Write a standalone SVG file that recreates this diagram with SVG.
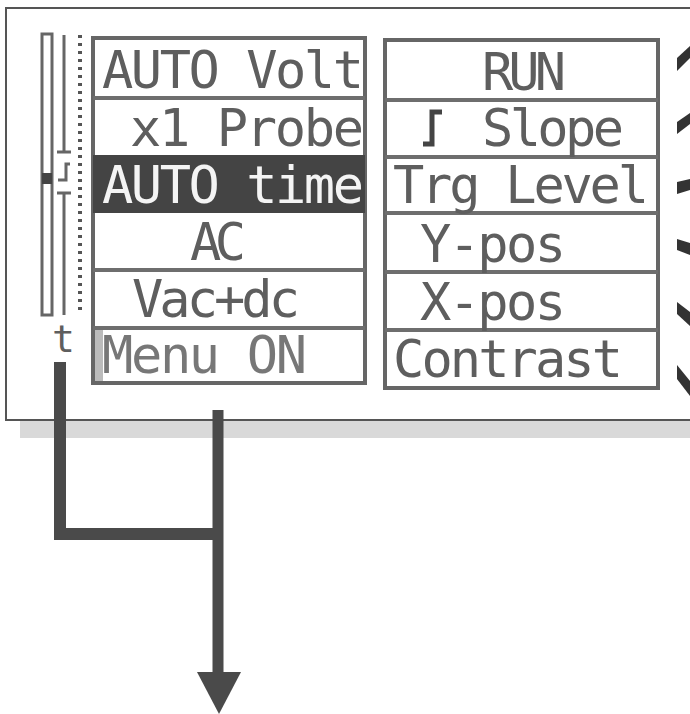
<svg xmlns="http://www.w3.org/2000/svg" width="690" height="714" viewBox="0 0 690 714">
<style>
.lbl{font-family:"DejaVu Sans Mono","Liberation Mono",monospace;font-size:52px;fill:#5e5e5e;lengthAdjust:spacingAndGlyphs}
.inv{fill:#f4f4f4}
.box{fill:#fff;stroke:#666;stroke-width:4}
.sep{stroke:#6e6e6e;stroke-width:4}
.con{fill:none;stroke:#4a4a4a;stroke-linejoin:miter}
.mark{fill:#333}
.tick{fill:none;stroke:#666;stroke-width:3}
</style>
<rect width="690" height="714" fill="#fff"/>
<g id="panel">
<rect x="20" y="420" width="680" height="18" fill="#d9d9d9"/>
<rect x="6" y="8" width="700" height="412" fill="#fff" stroke="#555" stroke-width="2"/>
</g>
<g id="scale">
<rect x="42" y="34" width="10" height="281" fill="none" stroke="#666" stroke-width="3"/>
<rect x="42" y="173" width="10" height="11" fill="#444"/>
<path d="M64,35 V152 M57,152 H71 M70,164 H66 V180 H58 M57,193 H71 M64,193 V315" class="tick"/>
<line x1="80" y1="35" x2="80" y2="312" stroke="#555" stroke-width="4" stroke-dasharray="3,5"/>
<text x="52" y="352" class="lbl" style="font-size:38px">t</text>
</g>
<g id="left-menu">
<rect x="93" y="38" width="272" height="345" class="box"/>
<rect x="93" y="155" width="272" height="58" fill="#444"/>
<rect x="95" y="330" width="8" height="51" fill="#bbb"/>
<line x1="93" y1="98" x2="365" y2="98" class="sep"/>
<line x1="93" y1="270" x2="365" y2="270" class="sep"/>
<line x1="93" y1="328" x2="365" y2="328" class="sep"/>
<g id="auto-volt"><text x="102" y="88" class="lbl" textLength="262">AUTO Volt</text></g>
<g id="x1-probe"><text x="130" y="146" class="lbl" textLength="234">x1 Probe</text></g>
<g id="auto-time"><text x="102" y="203" class="lbl inv" textLength="262">AUTO time</text></g>
<g id="ac"><text x="190" y="260" class="lbl" textLength="56">AC</text></g>
<g id="vac-dc"><text x="132" y="317" class="lbl" textLength="168">Vac+dc</text></g>
<g id="menu-on"><text x="102" y="373" class="lbl" style="fill:#777" textLength="205">Menu ON</text></g>
</g>
<g id="right-menu">
<rect x="385" y="40" width="273" height="348" class="box"/>
<line x1="385" y1="100" x2="658" y2="100" class="sep"/>
<line x1="385" y1="157" x2="658" y2="157" class="sep"/>
<line x1="385" y1="213" x2="658" y2="213" class="sep"/>
<line x1="385" y1="272" x2="658" y2="272" class="sep"/>
<line x1="385" y1="330" x2="658" y2="330" class="sep"/>
<g id="run"><text x="482" y="90" class="lbl" textLength="84">RUN</text></g>
<g id="slope">
<path d="M423,144 H432 V112 H442" fill="none" stroke="#444" stroke-width="5"/>
<text x="482" y="146" class="lbl" textLength="142">Slope</text>
</g>
<g id="trg-level"><text x="393" y="203" class="lbl" textLength="256">Trg Level</text></g>
<g id="y-pos"><text x="420" y="262" class="lbl" textLength="146">Y-pos</text></g>
<g id="x-pos"><text x="420" y="320" class="lbl" textLength="146">X-pos</text></g>
<g id="contrast"><text x="393" y="377" class="lbl" textLength="230">Contrast</text></g>
</g>
<g id="side-marks">
<polygon points="677,58 690,46 690,58 677,71" class="mark"/>
<polygon points="677,122 690,113 690,124 677,134" class="mark"/>
<polygon points="677,182 690,179 690,190 677,194" class="mark"/>
<polygon points="677,239 690,243 690,255 677,250" class="mark"/>
<polygon points="677,302 690,312 690,326 677,314" class="mark"/>
<polygon points="677,365 690,381 690,396 677,379" class="mark"/>
</g>
<g id="connectors">
<path d="M60,362 V534 H222" class="con" stroke-width="12"/>
<path d="M218,410 V676" class="con" stroke-width="11"/>
<polygon points="197,672 241,672 219,714" fill="#4a4a4a"/>
</g>
</svg>
